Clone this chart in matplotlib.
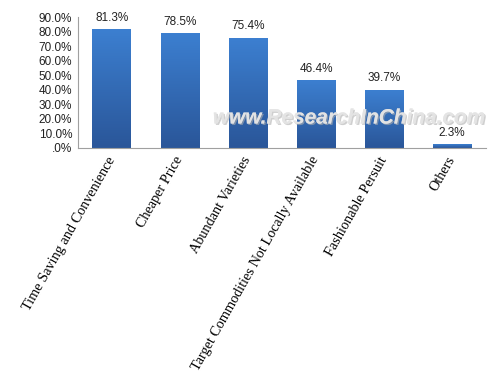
import numpy as np
import matplotlib
matplotlib.use("Agg")
import matplotlib.pyplot as plt
from matplotlib.colors import LinearSegmentedColormap
from matplotlib.ticker import FuncFormatter
import matplotlib.patheffects as pe

categories = ["Time Saving and Convenience", "Cheaper Price", "Abundant Varieties",
              "Target Commodities Not Locally Available", "Fashionable Persuit", "Others"]
values = [81.3, 78.5, 75.4, 46.4, 39.7, 2.3]
yticks = [0, 10, 20, 30, 40, 50, 60, 70, 80, 90]

fig = plt.figure(figsize=(4.99, 3.87), dpi=100)
ax = fig.add_axes([0.156, 0.618, 0.818, 0.338])

x = np.arange(len(categories))
bars = ax.bar(x, values, width=0.57, color="none", edgecolor="none", zorder=2)

# vertical gradient fill for each bar
cmap = LinearSegmentedColormap.from_list("bl", ["#2a5699", "#3c7fd0"])
grad = np.linspace(0, 1, 100).reshape(-1, 1)
for b in bars:
    x0, w, h = b.get_x(), b.get_width(), b.get_height()
    ax.imshow(grad, extent=[x0, x0 + w, 0, h], origin="lower", cmap=cmap,
              aspect="auto", zorder=2)

ax.set_xlim(-0.5, len(categories) - 0.5)
ax.set_ylim(0, 90)
ax.set_yticks(yticks)
ax.yaxis.set_major_formatter(FuncFormatter(lambda v, p: ".0%" if v == 0 else "%.1f%%" % v))
ax.tick_params(axis="y", length=0, pad=4, labelsize=8.5)
for t in ax.get_yticklabels():
    t.set_fontfamily("Liberation Sans")
    t.set_color("#222222")

ax.set_xticks(x)
ax.set_xticklabels(categories, rotation=60.5, ha="right", va="center",
                   rotation_mode="anchor", fontfamily="Liberation Serif", fontsize=10.3)
ax.tick_params(axis="x", length=0, pad=7)

for s in ["top", "right"]:
    ax.spines[s].set_visible(False)
ax.spines["left"].set_color("#a0a0a0")
ax.spines["bottom"].set_color("#a0a0a0")

for xi, v in zip(x, values):
    ax.text(xi, v + 4, "%.1f%%" % v, ha="center", va="bottom", fontsize=8.5,
            fontfamily="Liberation Sans", color="#222222")

# watermark
fig.text(0.70, 0.695, "www.ResearchInChina.com", fontsize=15, fontstyle="italic",
         fontweight="bold", color="#e4e4e4", alpha=0.9, ha="center", va="center",
         fontfamily="Liberation Sans", zorder=5,
         path_effects=[pe.withSimplePatchShadow(offset=(1, -1), shadow_rgbFace="#b0b0b0", alpha=0.6),
                       pe.Normal()])

fig.savefig("out.png", dpi=100)
